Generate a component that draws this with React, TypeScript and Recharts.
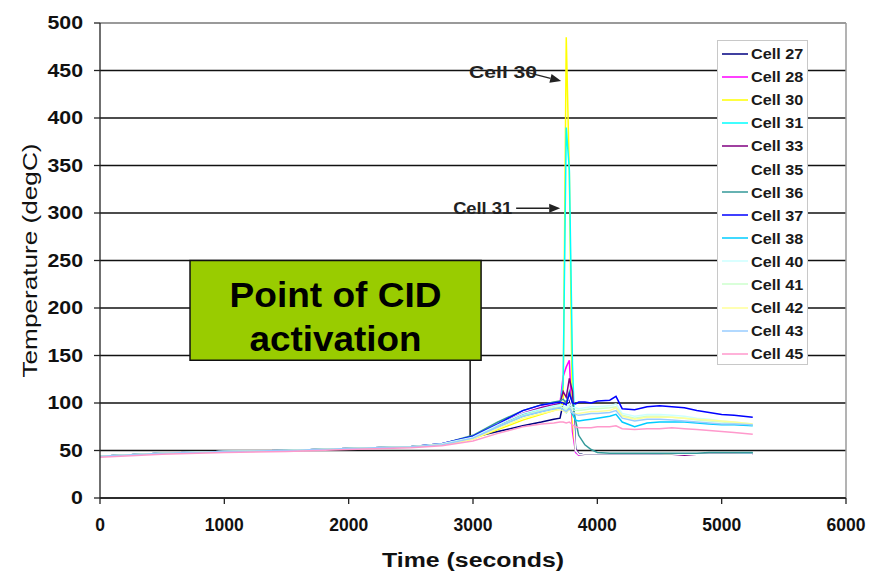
import React from "react";
import {
  CartesianGrid,
  Legend,
  Line,
  LineChart,
  ReferenceArea,
  ReferenceLine,
  XAxis,
  YAxis,
} from "recharts";

const FONT = '"Liberation Sans", Arial, sans-serif';

// time in seconds
const TIME = [
  0, 500, 1000, 1500, 2000, 2500, 2750, 3000, 3200, 3400, 3550, 3650, 3700, 3725,
  3750, 3775, 3800, 3825, 3850, 3900, 3950, 4000, 4100, 4150, 4200, 4300, 4400,
  4500, 4600, 4700, 4800, 4900, 5000, 5100, 5250,
];

const CELL_NAMES = [
  "Cell 27", "Cell 28", "Cell 30", "Cell 31", "Cell 33", "Cell 35", "Cell 36",
  "Cell 37", "Cell 38", "Cell 40", "Cell 41", "Cell 42", "Cell 43", "Cell 45",
];

const CELL_27 = [44, 47, 49, 50, 52, 54, 56, 64, 70, 76, 80, 83, 84, 100, 102, 104, 85, 52, 47, 45, 45, 45, 45, 45, 45, 45, 45, 46, 46, 46, 46, 46, 47, 47, 47];
const CELL_28 = [44, 47, 49, 50, 52, 54, 57, 65, 78, 90, 96, 99, 100, 128, 138, 145, 70, 48, 45, 45, 45, 45, 45, 45, 45, 45, 45, 45, 45, 46, 46, 46, 46, 46, 46];
const CELL_30 = [44, 47, 49, 50, 52, 54, 56, 62, 72, 82, 88, 92, 95, 100, 485, 340, 80, 50, 46, 45, 45, 45, 45, 45, 45, 45, 45, 45, 46, 46, 46, 46, 46, 46, 47];
const CELL_31 = [44, 47, 49, 50, 52, 54, 57, 64, 76, 88, 94, 97, 99, 120, 390, 345, 140, 50, 46, 45, 45, 45, 45, 45, 45, 45, 45, 45, 45, 46, 46, 46, 46, 46, 47];
const CELL_33 = [44, 47, 49, 50, 52, 54, 57, 65, 77, 89, 95, 98, 100, 112, 106, 126, 112, 52, 46, 45, 45, 45, 45, 45, 45, 45, 45, 45, 45, 45, 46, 46, 46, 46, 46];
const CELL_35 = [44, 47, 49, 50, 52, 54, 57, 65, 79, 91, 97, 100, 101, 103, 100, 106, 96, 50, 46, 45, 45, 45, 45, 45, 45, 45, 45, 45, 45, 46, 46, 46, 46, 46, 46];
const CELL_36 = [44, 47, 49, 50, 52, 54, 57, 66, 80, 92, 98, 101, 102, 104, 100, 112, 100, 82, 66, 56, 51, 48, 47, 47, 47, 47, 47, 47, 47, 47, 47, 48, 48, 48, 48];
const CELL_37 = [44, 47, 49, 50, 52, 54, 57, 65, 78, 92, 98, 100, 101, 100, 98, 110, 100, 99, 101, 101, 100, 102, 103, 107, 94, 93, 96, 97, 96, 95, 92, 90, 88, 87, 85];
const CELL_38 = [44, 47, 49, 50, 52, 54, 56, 63, 75, 86, 91, 94, 95, 93, 90, 95, 88, 82, 81, 82, 83, 84, 86, 88, 80, 75, 79, 80, 80, 80, 79, 78, 77, 77, 76];
const CELL_40 = [44, 47, 49, 50, 52, 54, 57, 64, 77, 89, 94, 97, 98, 97, 95, 99, 95, 95, 94, 95, 96, 96, 97, 99, 89, 86, 88, 88, 87, 86, 84, 83, 81, 80, 78];
const CELL_41 = [44, 47, 49, 50, 52, 54, 56, 63, 75, 87, 92, 95, 96, 95, 93, 96, 93, 92, 92, 93, 94, 94, 95, 96, 87, 84, 86, 86, 85, 84, 82, 81, 80, 79, 77];
const CELL_42 = [44, 47, 49, 50, 52, 54, 56, 62, 73, 84, 89, 92, 93, 92, 90, 93, 90, 89, 89, 90, 91, 91, 92, 95, 86, 83, 85, 85, 85, 84, 83, 82, 81, 80, 78];
const CELL_43 = [44, 47, 49, 50, 52, 54, 56, 63, 75, 86, 91, 94, 95, 93, 91, 94, 90, 88, 87, 88, 89, 89, 90, 92, 84, 81, 83, 83, 82, 81, 80, 79, 78, 78, 77];
const CELL_45 = [43, 46, 48, 49, 51, 53, 55, 60, 68, 75, 78, 79, 80, 80, 79, 80, 77, 75, 74, 74, 74, 75, 75, 76, 73, 72, 73, 73, 74, 73, 72, 71, 70, 69, 67];

const SERIES = [
  CELL_27, CELL_28, CELL_30, CELL_31, CELL_33, CELL_35, CELL_36,
  CELL_37, CELL_38, CELL_40, CELL_41, CELL_42, CELL_43, CELL_45,
];

const COLORS = [
  "#000080", "#ff00ff", "#ffff00", "#00ffff", "#800080", "#ffffff", "#339999",
  "#0000ff", "#00ccff", "#ccffff", "#ccffcc", "#ffff99", "#99ccff", "#ff99cc",
];

const X_TICKS = [0, 1000, 2000, 3000, 4000, 5000, 6000];
const Y_TICKS = [0, 50, 100, 150, 200, 250, 300, 350, 400, 450, 500];

const rows = TIME.map((t, i) => {
  const row: Record<string, number> = { t };
  SERIES.forEach((s, k) => {
    row["c" + k] = s[i];
  });
  return row;
});

function CellLegend(props: any) {
  const payload = props.payload || [];
  return (
    <div
      style={{
        width: 91,
        height: 325,
        boxSizing: "border-box",
        background: "#fff",
        border: "1px solid #c8c8c8",
        paddingTop: 1,
        fontFamily: FONT,
      }}
    >
      {payload.map((p: any) => (
        <div
          key={p.value}
          style={{ height: 23.1, display: "flex", alignItems: "center", whiteSpace: "nowrap" }}
        >
          <svg width={29} height={6} style={{ marginLeft: 4, flex: "none" }}>
            <line x1={0} y1={3} x2={26} y2={3} stroke={p.color} strokeWidth={1.5} />
          </svg>
          <span
            style={{
              display: "inline-block",
              fontSize: 15,
              fontWeight: 700,
              color: "#1a1a1a",
              transform: "scaleX(1.08)",
              transformOrigin: "left center",
            }}
          >
            {p.value}
          </span>
        </div>
      ))}
    </div>
  );
}

function YTick(p: any) {
  const { x, y, payload } = p;
  return (
    <text
      x={0}
      y={0}
      transform={`translate(${x},${y}) scale(1.22,1)`}
      textAnchor="end"
      dy="0.36em"
      fontFamily={FONT}
      fontSize={17.5}
      fontWeight={700}
      fill="#111"
    >
      {payload.value}
    </text>
  );
}

function arrowShape(text: string, textRight: number, textWidth: number) {
  return (p: any) => {
    const { x1, y1, x2, y2 } = p;
    const ang = Math.atan2(y2 - y1, x2 - x1);
    const L = 11;
    const W = 4.5;
    const bx = x2 - L * Math.cos(ang);
    const by = y2 - L * Math.sin(ang);
    const pts = [
      `${x2},${y2}`,
      `${bx - W * Math.sin(ang)},${by + W * Math.cos(ang)}`,
      `${bx + W * Math.sin(ang)},${by - W * Math.cos(ang)}`,
    ].join(" ");
    return (
      <g>
        <text
          x={x1 + textRight - textWidth}
          y={y1}
          dy="0.36em"
          fontFamily={FONT}
          fontSize={16}
          fontWeight={700}
          fill="#222"
          textLength={textWidth}
          lengthAdjust="spacingAndGlyphs"
        >
          {text}
        </text>
        <line x1={x1} y1={y1} x2={bx} y2={by} stroke="#222" strokeWidth={1.3} />
        <polygon points={pts} fill="#222" />
      </g>
    );
  };
}

function CidLabel(p: any) {
  const vb = p.viewBox || {};
  const cx = vb.x + vb.width / 2;
  return (
    <g fontFamily={FONT} fontSize={35} fontWeight={700} fill="#000">
      <text
        x={cx - 106}
        y={vb.y + 46}
        textLength={212}
        lengthAdjust="spacingAndGlyphs"
      >
        Point of CID
      </text>
      <text
        x={cx - 86}
        y={vb.y + 90}
        textLength={172}
        lengthAdjust="spacingAndGlyphs"
      >
        activation
      </text>
    </g>
  );
}

function YLabel(p: any) {
  const vb = p.viewBox || {};
  const cy = vb.y + vb.height / 2;
  return (
    <text
      x={30}
      y={cy}
      transform={`rotate(-90 30 ${cy})`}
      textAnchor="middle"
      dy="0.36em"
      fontFamily={FONT}
      fontSize={20}
      fill="#111"
      textLength={234}
      lengthAdjust="spacingAndGlyphs"
    >
      Temperature (degC)
    </text>
  );
}

function XLabel(p: any) {
  const vb = p.viewBox || {};
  const cx = vb.x + vb.width / 2;
  return (
    <text
      x={cx - 91}
      y={567}
      fontFamily={FONT}
      fontSize={20}
      fontWeight={700}
      fill="#111"
      textLength={182}
      lengthAdjust="spacingAndGlyphs"
    >
      Time (seconds)
    </text>
  );
}

export default function App() {
  return (
    <div style={{ position: "absolute", left: 0, top: 0, background: "#fff" }}>
      <LineChart
        width={875}
        height={577}
        data={rows}
        margin={{ top: 23, right: 29, bottom: 29, left: 40 }}
      >
        <CartesianGrid vertical={false} stroke="#111" strokeWidth={1.3} />
        <ReferenceLine y={500} stroke="#9a9a9a" strokeWidth={2} />
        <ReferenceLine x={6000} stroke="#9a9a9a" strokeWidth={1.5} />
        <XAxis
          dataKey="t"
          type="number"
          domain={[0, 6000]}
          ticks={X_TICKS}
          stroke="#222"
          strokeWidth={1.3}
          tickSize={6}
          tickMargin={15}
          height={50}
          tick={{ fontFamily: FONT, fontSize: 17.5, fontWeight: 700, fill: "#111" }}
          label={<XLabel />}
        />
        <YAxis
          type="number"
          domain={[0, 500]}
          ticks={Y_TICKS}
          width={60}
          stroke="#222"
          strokeWidth={1.3}
          tickSize={6}
          tickMargin={11}
          tick={<YTick />}
          label={<YLabel />}
        />
        <ReferenceArea
          x1={724}
          x2={3065}
          y1={145}
          y2={250}
          fill="#99cc00"
          fillOpacity={1}
          stroke="#111"
          strokeWidth={1.5}
          label={<CidLabel />}
        />
        <ReferenceLine
          segment={[
            { x: 2977, y: 65 },
            { x: 2977, y: 145 },
          ]}
          stroke="#111"
          strokeWidth={1.5}
        />
        {SERIES.map((_, k) => (
          <Line
            key={k}
            dataKey={"c" + k}
            name={CELL_NAMES[k]}
            type="linear"
            stroke={COLORS[k]}
            strokeWidth={1.5}
            dot={false}
            isAnimationActive={false}
          />
        ))}
        <ReferenceLine
          segment={[
            { x: 3435, y: 448 },
            { x: 3709, y: 439 },
          ]}
          shape={arrowShape("Cell 30", 10, 68)}
        />
        <ReferenceLine
          segment={[
            { x: 3347, y: 305 },
            { x: 3701, y: 305 },
          ]}
          shape={arrowShape("Cell 31", -4, 59)}
        />
        <Legend
          layout="horizontal"
          align="center"
          verticalAlign="middle"
          content={<CellLegend />}
          wrapperStyle={{ left: 717, top: 40, width: 91, height: 325 }}
        />
      </LineChart>
    </div>
  );
}
